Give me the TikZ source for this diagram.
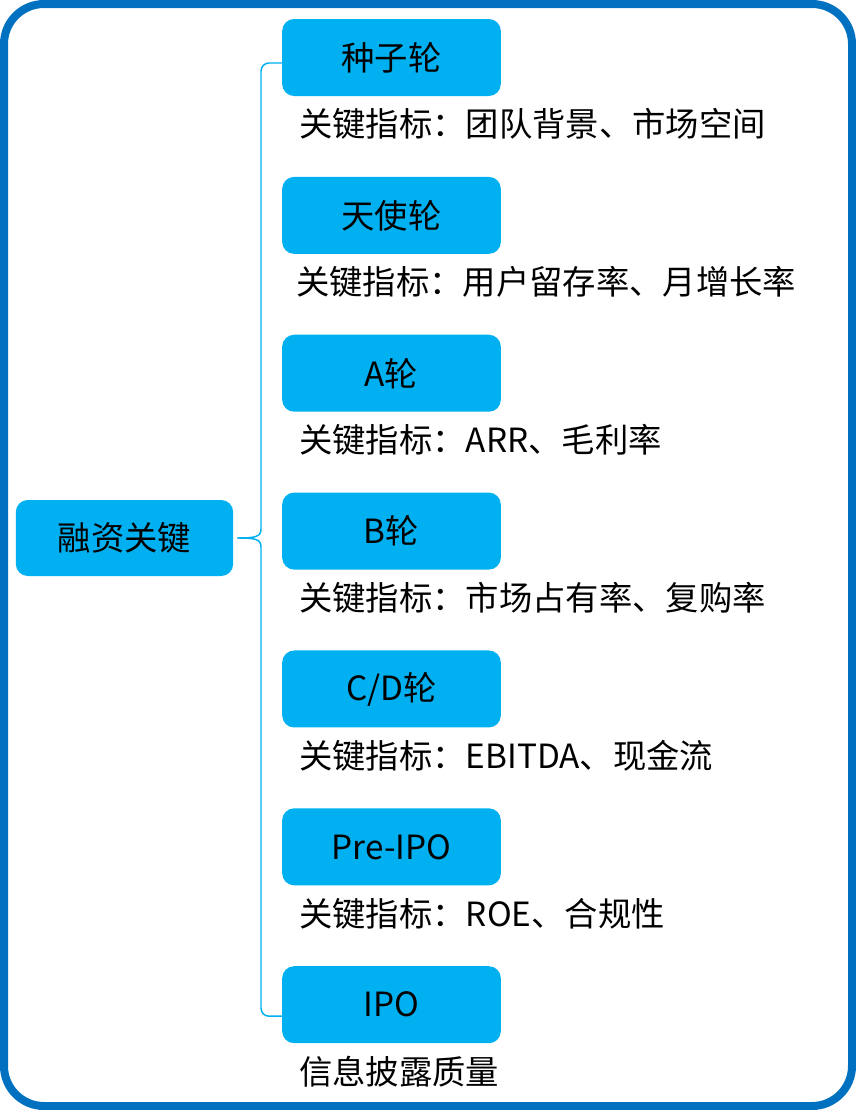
\documentclass[tikz,border=0pt]{standalone}
\usepackage{fontspec}
\setmainfont{Noto Sans CJK SC}
\usetikzlibrary{positioning,calc}
\definecolor{frBlue}{HTML}{00B0F0}
\definecolor{frFrame}{HTML}{0070C0}
\tikzset{
  fr-box/.style={
    fill=frBlue, rounded corners=9pt, inner sep=0pt,
    minimum width=164pt, minimum height=57.75pt,
    font=\fontsize{25}{29}\selectfont, text=black
  },
  fr-root/.style={fr-box, minimum width=163pt, minimum height=57pt},
  fr-label/.style={anchor=west, inner sep=0pt,
    font=\fontsize{25}{29}\selectfont, text=black},
  fr-brace/.style={draw=frBlue, line width=1.1pt},
  fr-frame/.style={draw=frFrame, line width=6pt, rounded corners=30pt}
}

\begin{document}
\begin{tikzpicture}[x=0.75pt, y=-0.75pt]
\useasboundingbox (0,0) rectangle (856,1110);
\draw[fr-frame] (4,4) rectangle (852,1106);

\node[fr-root] (root) at (124.5,538) {融资关键};

\node[fr-box] (n1) at (391.5,57.5) {种子轮};
\node[fr-box, below=60.25pt of n1] (n2) {天使轮};
\node[fr-box, below=60.25pt of n2] (n3) {A轮};
\node[fr-box, below=60.25pt of n3] (n4) {B轮};
\node[fr-box, below=60.25pt of n4] (n5) {C/D轮};
\node[fr-box, below=60.25pt of n5] (n6) {Pre-IPO};
\node[fr-box, below=60.25pt of n6] (n7) {IPO};

\node[fr-label] (l1) at ($(n1.south west)+(17,28)$) {关键指标：团队背景、市场空间};
\node[fr-label] (l2) at ($(n2.south west)+(14,28)$) {关键指标：用户留存率、月增长率};
\node[fr-label] (l3) at ($(n3.south west)+(17,28)$) {关键指标：ARR、毛利率};
\node[fr-label] (l4) at ($(n4.south west)+(17,28)$) {关键指标：市场占有率、复购率};
\node[fr-label] (l5) at ($(n5.south west)+(17,28)$) {关键指标：EBITDA、现金流};
\node[fr-label] (l6) at ($(n6.south west)+(17,28)$) {关键指标：ROE、合规性};
\node[fr-label] (l7) at ($(n7.south west)+(17,28)$) {信息披露质量};

% brace from the root to the first and the last stage
\coordinate (bx) at (261,0);
\coordinate (tip) at ($(root.east)+(4,0)$);
\draw[fr-brace, rounded corners=6pt] ($(n1.west)+(0,5.5)$) -| ($(bx |- tip)+(0,-9)$);
\draw[fr-brace, rounded corners=6pt] ($(n7.west)+(0,11.5)$) -| ($(bx |- tip)+(0,9)$);
\draw[fr-brace] ($(bx |- tip)+(0,-9)$) .. controls ($(bx |- tip)+(0,-1)$) and ($(bx |- tip)+(-6,0)$) .. (tip);
\draw[fr-brace] ($(bx |- tip)+(0,9)$) .. controls ($(bx |- tip)+(0,1)$) and ($(bx |- tip)+(-6,0)$) .. (tip);
\end{tikzpicture}
\end{document}
